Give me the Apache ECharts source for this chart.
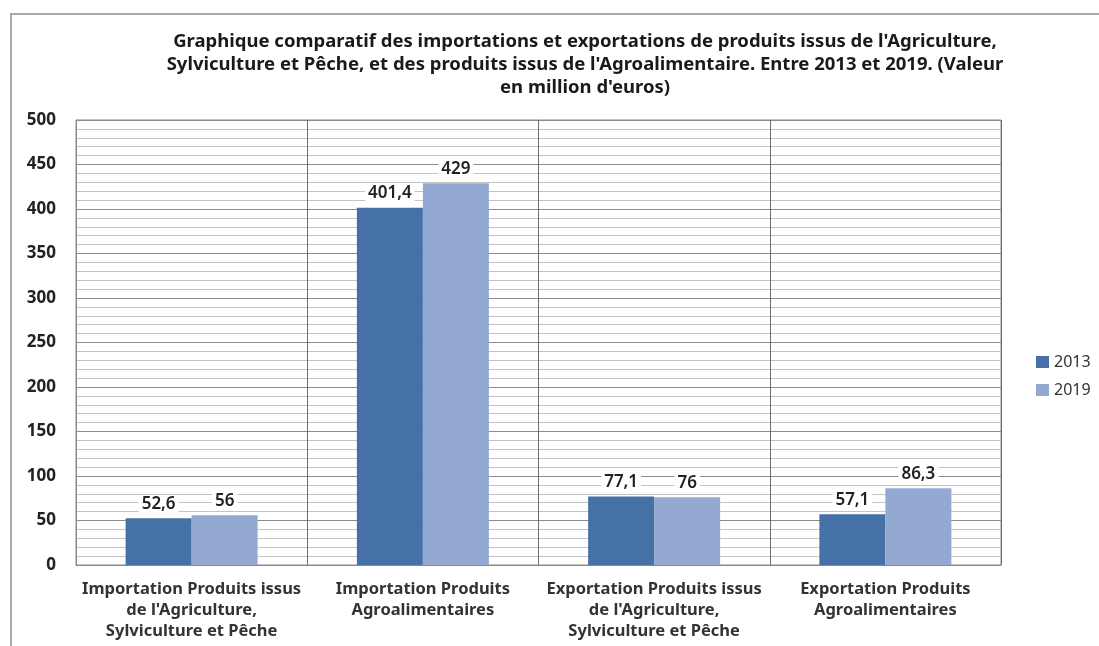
<!DOCTYPE html>
<html>
<head>
<meta charset="utf-8">
<script src="https://cdn.jsdelivr.net/npm/echarts@6/dist/echarts.min.js"></script>
<style>
  html, body { margin: 0; padding: 0; background: #fff; }
  #chart { width: 1099px; height: 646px; }
</style>
</head>
<body>
<div id="chart"></div>
<script>
// categories (line breaks as in the original)
var categories = [
  "Importation Produits issus\nde l'Agriculture,\nSylviculture et Pêche",
  "Importation Produits\nAgroalimentaires",
  "Exportation Produits issus\nde l'Agriculture,\nSylviculture et Pêche",
  "Exportation Produits\nAgroalimentaires"
];
var years = ['2013', '2019'];
var values2013 = [52.6, 401.4, 77.1, 57.1];
var values2019 = [56, 429, 76, 86.3];
var yTicks = { min: 0, max: 500, step: 50 };

var titleText = "Graphique comparatif des importations et exportations de produits issus de l'Agriculture,\n" +
  "Sylviculture et Pêche, et des produits issus de l'Agroalimentaire. Entre 2013 et 2019. (Valeur\n" +
  "en million d'euros)";

var font = '"Noto Sans", "Open Sans", sans-serif';

// label with comma decimal
function virgule(p) {
  return String(p.value).replace('.', ',');
}

var labelStyle = {
  show: true,
  position: 'top',
  distance: 6,
  formatter: virgule,
  color: '#222',
  fontFamily: font,
  fontSize: 17,
  fontWeight: 600,
  backgroundColor: '#fff',
  padding: [0, 3]
};

var chart = echarts.init(document.getElementById('chart'));
chart.setOption({
  animation: false,
  backgroundColor: '#fff',
  title: {
    text: titleText,
    left: 580,
    top: 25,
    textAlign: 'center',
    textStyle: {
      fontFamily: font,
      fontSize: 18.5,
      fontWeight: 'bold',
      color: '#1a1a1a',
      lineHeight: 23,
      align: 'center'
    }
  },
  graphic: [{
    type: 'rect',
    shape: { x: 11, y: 14, width: 1200, height: 700 },
    style: { fill: 'none', stroke: '#a8a8a8', lineWidth: 2 },
    silent: true,
    z: -1
  }],
  legend: {
    orient: 'vertical',
    left: 1031,
    top: 349,
    itemWidth: 13,
    itemHeight: 12,
    itemGap: 12,
    icon: 'rect',
    data: years,
    textStyle: { fontFamily: font, fontSize: 16, color: '#333' }
  },
  grid: {
    left: 76,
    right: 98,
    top: 120,
    bottom: 81,
    show: true,
    borderColor: '#8a8a8a',
    borderWidth: 1
  },
  xAxis: {
    type: 'category',
    data: categories,
    axisTick: { show: false },
    axisLine: { lineStyle: { color: '#8a8a8a' } },
    splitLine: { show: true, lineStyle: { color: '#6e6e6e' } },
    axisLabel: {
      interval: 0,
      margin: 14,
      fontFamily: font,
      fontSize: 16.5,
      fontWeight: 'bold',
      color: '#333',
      lineHeight: 21
    }
  },
  yAxis: {
    type: 'value',
    min: yTicks.min,
    max: yTicks.max,
    interval: yTicks.step,
    axisLine: { show: true, lineStyle: { color: '#8a8a8a' } },
    axisTick: { show: false },
    axisLabel: {
      margin: 20,
      fontFamily: font,
      fontSize: 17,
      fontWeight: 'bold',
      color: '#222'
    },
    splitLine: { lineStyle: { color: '#8c8c8c' } },
    minorTick: { show: false, splitNumber: 5 },
    minorSplitLine: { show: true, lineStyle: { color: '#c4c4c4' } }
  },
  series: [{
    name: years[0],
    type: 'bar',
    data: values2013,
    barWidth: 66,
    barGap: '0%',
    itemStyle: { color: '#4671a6' },
    label: labelStyle
  }, {
    name: years[1],
    type: 'bar',
    data: values2019,
    barWidth: 66,
    barGap: '0%',
    itemStyle: { color: '#93a9d1' },
    label: labelStyle
  }]
});
</script>
</body>
</html>
